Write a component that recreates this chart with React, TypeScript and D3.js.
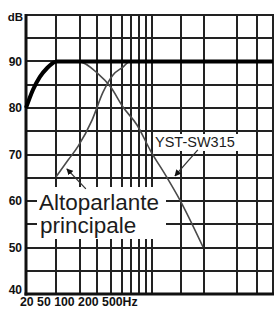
import React from "react";
import * as d3 from "d3";

const W = 276;
const H = 309;

// frequency grid (Hz) and dB grid
const FREQ_GRID = [20, 30, 40, 50, 60, 70, 80, 90, 100, 200, 300, 500, 700, 1000];
const FREQ_MIN = 12;
const FREQ_MAX = 1000;
const DB_GRID = [40, 45, 50, 55, 60, 65, 70, 75, 80, 85, 90, 95, 100];
const DB_LABELS = [40, 50, 60, 70, 80, 90];
const X_LABEL = "20 50 100 200 500Hz";

// combined response (thick)
const combinedHz = [12, 13.5, 15.2, 17.2, 19, 20.2, 1000];
const combinedDb = [80, 83.9, 86.7, 88.6, 89.7, 90, 90];

// subwoofer response (falls at high frequency)
const subHz = [20, 29, 40, 50, 61.5, 78, 97.6, 139.7, 195, 295];
const subDb = [90, 90, 87.5, 84.5, 80.2, 76.3, 70.8, 65.4, 60.2, 50.1];

// main speaker response (rises at low frequency)
const mainHz = [20, 24.5, 29, 36.6, 44, 52, 61.5, 69, 100, 1000];
const mainDb = [65.2, 68.8, 71.8, 77.4, 83.4, 87.1, 88.8, 90, 90, 90];

const LABEL_MAIN = ["Altoparlante", "principale"];
const LABEL_SUB = "YST-SW315";

// annotation arrows [fromHz, fromDb, toHz, toDb]
const arrowMain = [33, 62.6, 24, 66.9];
const arrowSub = [269, 71, 173, 65.4];

export default function App() {
  const x = d3
    .scaleLog()
    .domain([FREQ_MIN, 20, 100, 200, 300, 500, 700, FREQ_MAX])
    .range([26, 56, 152, 181, 204, 237, 257, 273]);
  const y = d3.scaleLinear().domain([40, 100]).range([294, 15]);

  const line = d3
    .line<[number, number]>()
    .x((d) => x(d[0]))
    .y((d) => y(d[1]))
    .curve(d3.curveMonotoneX);

  const zip = (a: number[], b: number[]) => a.map((v, i) => [v, b[i]] as [number, number]);

  const font = "'Liberation Sans', Arial, Helvetica, sans-serif";
  const gridColor = "#222";

  const top = y(100);
  const bottom = y(40);
  const left = x(FREQ_MIN);
  const right = x(FREQ_MAX);

  const vPath = FREQ_GRID.map((f) => `M${Math.round(x(f))},${top}V${bottom}`).join("");
  const hPath = DB_GRID.map((d) => `M${left},${Math.round(y(d))}H${right + 1}`).join("");

  const arrow = (a: number[], key: string) => (
    <line
      key={key}
      x1={x(a[0])}
      y1={y(a[1])}
      x2={x(a[2])}
      y2={y(a[3])}
      stroke="#333"
      strokeWidth={1.3}
      markerEnd="url(#ah)"
    />
  );

  return (
    <svg
      width={W}
      height={H}
      viewBox={`0 0 ${W} ${H}`}
      style={{ position: "fixed", left: 0, top: 0, background: "#fff" }}
    >
      <defs>
        <marker id="ah" viewBox="0 0 10 10" refX="9" refY="5" markerWidth="5" markerHeight="5" orient="auto">
          <path d="M0,0 L10,5 L0,10 z" fill="#111" />
        </marker>
      </defs>
      <rect width={W} height={H} fill="#fff" />
      {/* grid */}
      <path d={hPath} fill="none" stroke={gridColor} strokeWidth={2} />
      <path d={vPath} fill="none" stroke={gridColor} strokeWidth={2} />
      {/* masks behind labels */}
      <rect x={37} y={187} width={129} height={52} fill="#fff" />
      <rect x={154} y={134} width={84} height={17} fill="#fff" />
      {/* axes */}
      <path d={`M${left},${top - 1}V${bottom + 1.5}`} stroke="#111" strokeWidth={3} fill="none" />
      <path d={`M${left - 1.5},${bottom}H${right + 1}`} stroke="#111" strokeWidth={3} fill="none" />
      {/* curves */}
      <path d={line(zip(subHz, subDb)) || ""} fill="none" stroke="#4a4a4a" strokeWidth={1.6} />
      <path d={line(zip(mainHz, mainDb)) || ""} fill="none" stroke="#4a4a4a" strokeWidth={1.6} />
      <path d={line(zip(combinedHz, combinedDb)) || ""} fill="none" stroke="#000" strokeWidth={4} />
      {/* annotations */}
      {arrow(arrowMain, "am")}
      {arrow(arrowSub, "as")}
      <text x={39} y={210} fontFamily={font} fontSize={22.5} fill="#1c1c1c">
        {LABEL_MAIN[0]}
      </text>
      <text x={40} y={233} fontFamily={font} fontSize={22.5} fill="#1c1c1c">
        {LABEL_MAIN[1]}
      </text>
      <text x={155} y={147} fontFamily={font} fontSize={14.5} fill="#1c1c1c">
        {LABEL_SUB}
      </text>
      {/* y labels */}
      <text x={23} y={21} textAnchor="end" fontFamily={font} fontSize={11.5} fontWeight="bold" fill="#111">
        dB
      </text>
      {DB_LABELS.map((d) => (
        <text
          key={"l" + d}
          x={22}
          y={y(d) - (d === 40 ? 4 : 0)}
          dy="0.36em"
          textAnchor="end"
          fontFamily={font}
          fontSize={12}
          fontWeight="bold"
          fill="#111"
        >
          {d}
        </text>
      ))}
      <text x={20} y={306} fontFamily={font} fontSize={12.3} fontWeight="bold" fill="#111">
        {X_LABEL}
      </text>
    </svg>
  );
}
